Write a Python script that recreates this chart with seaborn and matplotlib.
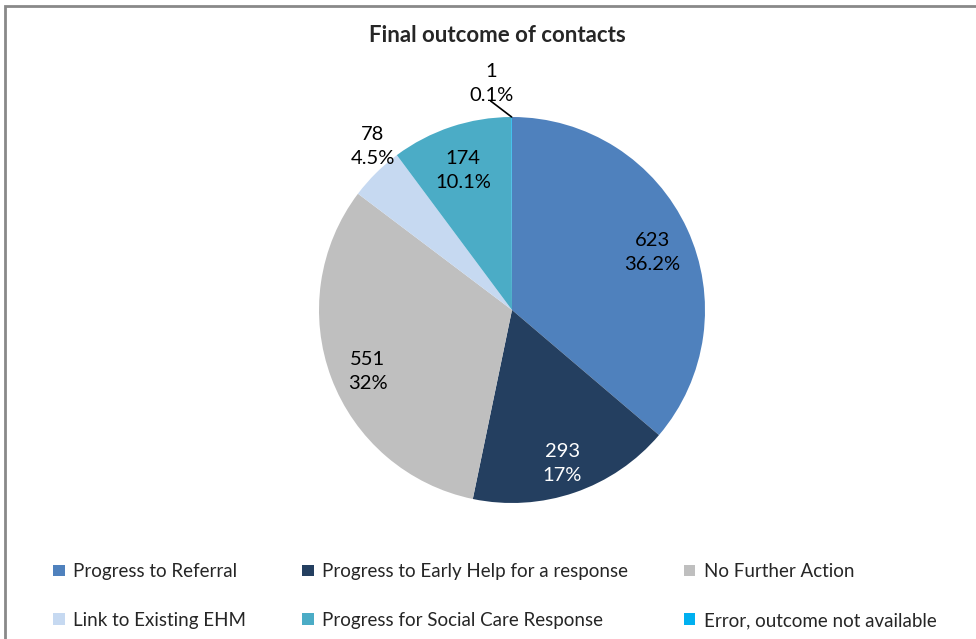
import matplotlib.pyplot as plt
import matplotlib.patches as mpatches
import numpy as np
import seaborn as sns

# Data
outcomes = ['Progress to Referral', 'Progress to Early Help for a response', 'No Further Action',
            'Link to Existing EHM', 'Progress for Social Care Response', 'Error, outcome not available']
counts = [623, 293, 551, 78, 174, 1]
colors = ['#4F81BD', '#243F60', '#BFBFBF', '#C6D9F1', '#4BACC6', '#00B0F0']
text_colors = ['black', 'white', 'black', 'black', 'black', 'black']

sns.set_style("white")
plt.rcParams['font.family'] = ['Lato', 'DejaVu Sans']

fig = plt.figure(figsize=(9.76, 6.39), dpi=100)
ax = fig.add_axes([0, 0, 1, 1])

# outer frame
fig.patches.append(mpatches.Rectangle((5 / 976, -0.1), 1.2, 1 - 6 / 639 + 0.1, transform=fig.transFigure,
                                      fill=False, edgecolor='#898989', linewidth=2))

cx, cy, r = 512, 639 - 310, 193
wedges, _ = ax.pie(counts, colors=colors, startangle=90, counterclock=False,
                   center=(cx, cy), radius=r, frame=True,
                   wedgeprops=dict(linewidth=0))
ax.set_xlim(0, 976)
ax.set_ylim(0, 639)
ax.axis('off')

total = sum(counts)
lab_fs = 14.5
for w, n, tc in zip(wedges, counts, text_colors):
    pct = round(n / total * 100, 1)
    pct_s = ('%.1f' % pct).rstrip('0').rstrip('.') + '%'
    txt = '%d\n%s' % (n, pct_s)
    ang = np.deg2rad((w.theta1 + w.theta2) / 2)
    frac = n / total
    if frac > 0.08:
        d = 0.8
        x, y = cx + d * r * np.cos(ang), cy + d * r * np.sin(ang) - 7
        ax.text(x, y, txt, ha='center', va='center', fontsize=lab_fs, color=tc, linespacing=1.5)
    elif frac > 0.01:
        d = 1.12
        x, y = cx + d * r * np.cos(ang) + 13, cy + d * r * np.sin(ang) + 10
        ax.text(x, y, txt, ha='center', va='center', fontsize=lab_fs, color=tc, linespacing=1.5)
    else:
        ex, ey = cx + r * np.cos(ang), cy + r * np.sin(ang)
        lx, ly = ex - 21, ey + 16
        ax.plot([ex, lx], [ey, ly], color='black', linewidth=1.2)
        ax.text(lx + 1, ly + 18, txt, ha='center', va='center', fontsize=lab_fs, color=tc, linespacing=1.5)

ax.text(497, 639 - 35, 'Final outcome of contacts', ha='center', va='center',
        fontsize=16, fontweight='bold')

# legend, column-major order for 2 rows x 3 cols
order = [0, 3, 1, 4, 2, 5]
handles = [mpatches.Patch(facecolor=colors[i], edgecolor='none') for i in order]
labels = [outcomes[i] for i in order]
fig.legend(handles, labels, ncol=3, loc='center', bbox_to_anchor=(495 / 976, (639 - 596) / 639),
           frameon=False, fontsize=13.5, handlelength=0.6, handleheight=0.6, handletextpad=0.45,
           columnspacing=3.0, labelspacing=1.7)

fig.savefig('out.png', dpi=100)
